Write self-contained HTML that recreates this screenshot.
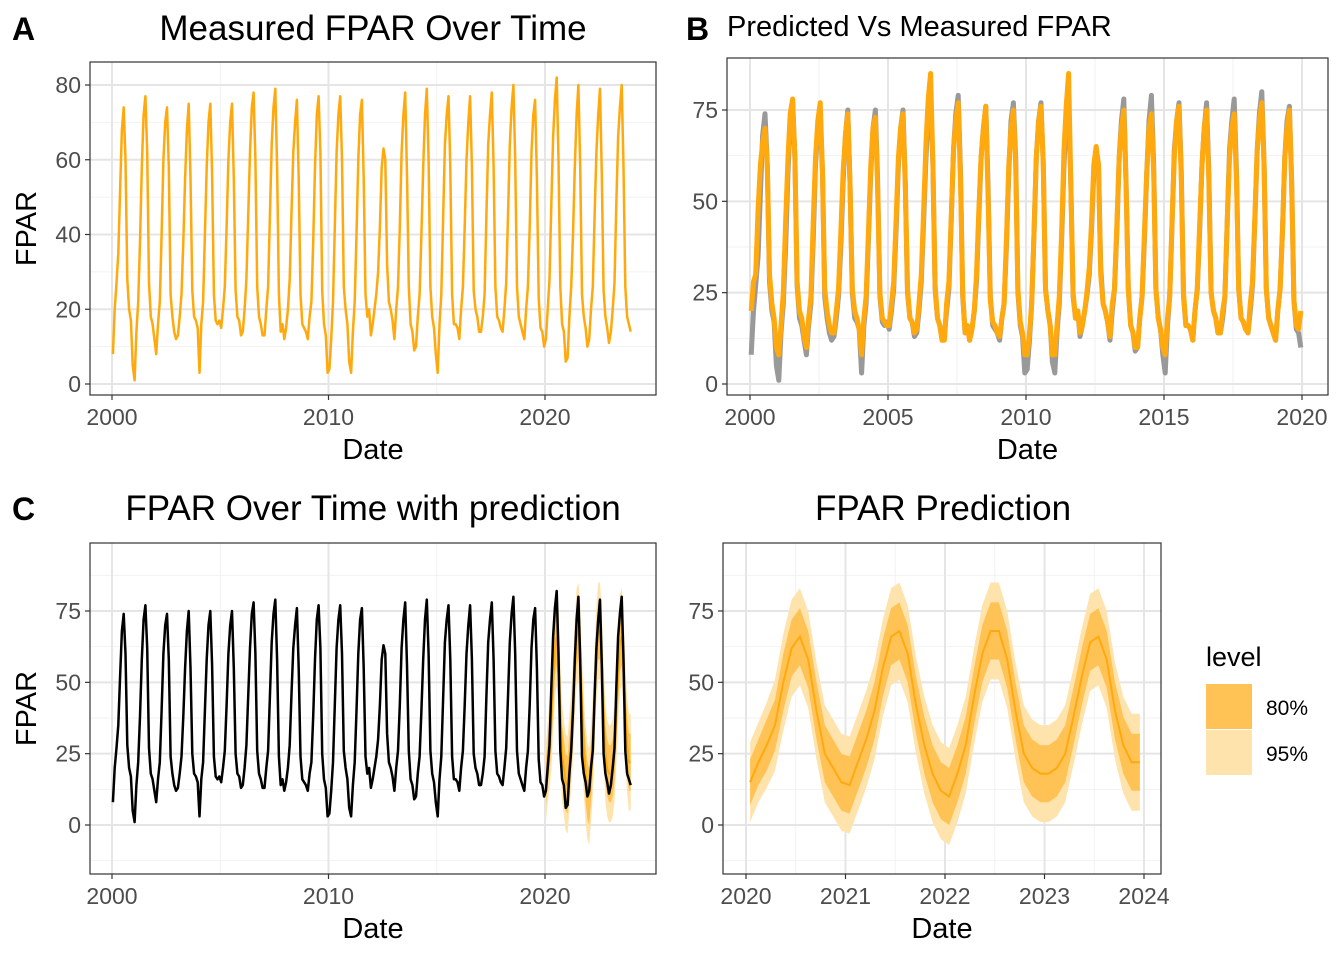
<!DOCTYPE html>
<html><head><meta charset="utf-8">
<style>
body{margin:0;background:#fff;}
svg text{font-family:"Liberation Sans",Arial,sans-serif;}
</style></head>
<body>
<svg id="fig" width="1344" height="960" xmlns="http://www.w3.org/2000/svg">
<rect width="1344" height="960" fill="#fff"/>
</svg>
<script>
// ---- data ----
const startYear = 2000;
const measured = [
[8,20,27,35,52,68,74,60,28,20,17,5],
[1,14,22,38,58,72,77,62,27,18,16,12],
[8,16,22,40,60,70,74,58,24,18,14,12],
[13,18,24,38,55,68,75,55,25,18,17,15],
[3,16,22,40,58,70,75,56,24,17,16,17],
[15,20,26,42,60,70,75,55,25,18,17,13],
[14,20,28,45,62,74,78,60,26,18,16,13],
[13,20,26,45,64,74,79,58,24,14,16,12],
[15,20,28,46,62,70,76,55,24,16,15,14],
[12,18,22,38,58,72,77,62,25,16,13,3],
[4,12,22,42,62,72,77,60,26,20,16,6],
[3,14,22,40,60,72,76,55,24,18,20,13],
[16,20,24,30,42,58,63,60,32,22,20,17],
[12,20,26,42,62,72,78,56,26,16,14,9],
[10,18,24,40,58,72,79,60,26,18,15,8],
[3,16,24,44,64,72,77,58,24,16,16,15],
[12,20,26,42,60,70,77,58,25,20,18,14],
[14,18,24,45,64,72,78,58,26,18,17,15],
[14,20,27,45,64,74,80,60,26,18,16,14],
[12,20,26,42,62,72,76,55,23,15,14,10],
[12,20,28,48,66,76,82,60,26,16,14,6],
[7,18,26,40,58,72,80,58,24,18,15,10],
[12,20,26,45,62,72,79,56,25,18,15,11],
[14,20,27,48,66,74,80,58,26,18,16,14]
];
const predicted = [
[20,28,30,48,60,66,70,60,30,22,18,10],
[8,16,25,45,62,74,78,62,28,20,18,13],
[10,18,24,45,62,72,77,58,26,20,16,14],
[14,20,26,42,58,68,74,55,26,20,18,15],
[8,18,24,42,60,70,73,54,25,18,17,16],
[16,22,28,45,62,70,74,54,26,18,17,14],
[15,22,30,48,66,78,85,60,27,18,16,12],
[12,22,28,46,64,72,77,56,25,14,16,12],
[15,20,30,48,62,70,76,52,23,17,16,14],
[13,18,22,40,60,70,75,60,26,17,14,8],
[8,14,22,42,62,72,76,60,26,20,16,8],
[8,16,24,42,64,76,85,55,25,18,20,14],
[16,20,25,32,44,60,65,60,30,22,20,17],
[13,22,26,44,62,70,75,55,26,16,14,10],
[10,18,24,42,58,70,74,58,26,18,15,10],
[8,18,24,45,62,72,76,56,25,16,16,15],
[12,20,26,44,60,70,75,56,25,20,18,14],
[14,20,24,45,62,70,74,56,26,18,17,15],
[14,22,28,46,64,72,77,60,26,18,16,14],
[12,20,26,42,62,70,75,55,23,16,15,20]
];
const fcMean = [
15,22,28,35,50,62,66,58,40,25,20,15,
14,22,30,40,55,66,68,60,42,28,18,12,
10,18,28,45,60,68,68,58,40,25,20,18,
18,20,25,38,52,64,66,58,40,28,22,22];
const fcHw80 = [8,8,9,9,10,10,10,10,10,10,10,10, 10,10,10,10,10,10,10,10,10,10,10,10, 10,10,10,10,10,10,10,10,10,10,10,10, 10,10,10,10,10,10,10,10,10,10,10,10];
const fcHw95 = [14,14,15,16,17,17,17,17,17,17,17,17, 17,17,17,17,17,17,17,17,17,17,17,17, 17,17,17,17,17,17,17,17,17,17,17,17, 17,17,17,17,17,17,17,17,17,17,17,17];
const ticksA_x=[2000,2010,2020], ticksA_y=[0,20,40,60,80];
const ticksB_x=[2000,2005,2010,2015,2020], ticksB_y=[0,25,50,75];
const ticksC_y=[0,25,50,75];
const ticksD_x=[2020,2021,2022,2023,2024];

// ---- helpers ----
const NS='http://www.w3.org/2000/svg';
const fig=document.getElementById('fig');
function el(tag,attrs,parent){const e=document.createElementNS(NS,tag);for(const k in attrs)e.setAttribute(k,attrs[k]);(parent||fig).appendChild(e);return e;}
function txt(s,attrs,parent){const e=el('text',attrs,parent);e.textContent=s;return e;}
function toPts(arr,y0){const p=[];arr.forEach((row,i)=>row.forEach((v,m)=>p.push([y0+i+(m+0.5)/12,v])));return p;}
const ORANGE='#FFA90F';

function panel(o){
  const g=el('g',{});
  
  
  const X=v=>o.x0+(v-o.xa)/(o.xb-o.xa)*(o.x1-o.x0);
  const Y=v=>o.y0-(v-o.ya)/(o.yb-o.ya)*(o.y0-o.y1);
  el('rect',{x:o.L,y:o.T,width:o.R-o.L,height:o.B-o.T,fill:'#fff'},g);
  o.minX.forEach(v=>el('line',{x1:X(v),x2:X(v),y1:o.T,y2:o.B,stroke:'#F2F2F2','stroke-width':1},g));
  o.minY.forEach(v=>el('line',{x1:o.L,x2:o.R,y1:Y(v),y2:Y(v),stroke:'#F2F2F2','stroke-width':1},g));
  o.tx.forEach(v=>el('line',{x1:X(v),x2:X(v),y1:o.T,y2:o.B,stroke:'#E5E5E5','stroke-width':2},g));
  o.ty.forEach(v=>el('line',{x1:o.L,x2:o.R,y1:Y(v),y2:Y(v),stroke:'#E5E5E5','stroke-width':2},g));
  o.draw(g,X,Y);
  el('rect',{x:o.L,y:o.T,width:o.R-o.L,height:o.B-o.T,fill:'none',stroke:'#333','stroke-width':1.2},g);
  o.tx.forEach(v=>{el('line',{x1:X(v),x2:X(v),y1:o.B,y2:o.B+5,stroke:'#333','stroke-width':1.2},g);
    const t=txt(String(v),{x:X(v),y:o.B+30,'font-size':23,fill:'#4D4D4D','text-anchor':'middle'},g);
    });
  o.ty.forEach(v=>{el('line',{x1:o.L-5,x2:o.L,y1:Y(v),y2:Y(v),stroke:'#333','stroke-width':1.2},g);
    const t=txt(String(v),{x:o.L-9,y:Y(v)+8,'font-size':23,fill:'#4D4D4D','text-anchor':'end'},g);
    });
  const xt=txt('Date',{x:(o.L+o.R)/2,y:o.B+64,'font-size':29,fill:'#000','text-anchor':'middle'},g);
  
  if(o.ytitle){const yt=txt('FPAR',{x:0,y:0,'font-size':29,fill:'#000','text-anchor':'middle',transform:`translate(36,${(o.T+o.B)/2}) rotate(-90)`},g);
    }
  const tt=txt(o.title,{x:o.titleX,y:o.titleY,'font-size':o.titleSize,fill:'#000','text-anchor':o.titleAnchor},g);
  
}
function path(pts,X,Y){return pts.map((p,i)=>(i?'L':'M')+X(p[0]).toFixed(1)+','+Y(p[1]).toFixed(1)).join('');}
function band(hw,X,Y){
  const up=[],lo=[];
  fcMean.forEach((v,i)=>{const x=2020+(i+0.5)/12;up.push([x,v+hw[i]]);lo.unshift([x,v-hw[i]]);});
  return path(up.concat(lo),X,Y)+'Z';
}
const mPts=toPts(measured,startYear), pPts=toPts(predicted,startYear);
const fPts=fcMean.map((v,i)=>[2020+(i+0.5)/12,v]);

// Panel A
panel({name:'panel-a',L:90,R:656,T:62,B:395,x0:112,x1:545,xa:2000,xb:2020,y0:384,y1:85,ya:0,yb:80,
  tx:ticksA_x,ty:ticksA_y,minX:[2005,2015],minY:[10,30,50,70],ytitle:true,
  title:'Measured FPAR Over Time',titleX:373,titleY:40,titleSize:35,titleAnchor:'middle',
  draw:(g,X,Y)=>{const p=el('path',{d:path(mPts,X,Y),fill:'none',stroke:ORANGE,'stroke-width':2.5,'stroke-linejoin':'round'},g);
    }});
// Panel B
panel({name:'panel-b',L:727,R:1328,T:58,B:395,x0:750,x1:1302,xa:2000,xb:2020,y0:384,y1:110,ya:0,yb:75,
  tx:ticksB_x,ty:ticksB_y,minX:[2002.5,2007.5,2012.5,2017.5],minY:[12.5,37.5,62.5],ytitle:false,
  title:'Predicted Vs Measured FPAR',titleX:727,titleY:36,titleSize:29,titleAnchor:'start',
  draw:(g,X,Y)=>{const a=el('path',{d:path(mPts.slice(0,240),X,Y),fill:'none',stroke:'#999','stroke-width':5,'stroke-linejoin':'round'},g);
    
    const b=el('path',{d:path(pPts,X,Y),fill:'none',stroke:ORANGE,'stroke-width':5,'stroke-linejoin':'round'},g);
    }});
// Panel C
panel({name:'panel-c',L:90,R:656,T:543,B:874,x0:112,x1:545,xa:2000,xb:2020,y0:825,y1:611,ya:0,yb:75,
  tx:ticksA_x,ty:ticksC_y,minX:[2005,2015],minY:[-12.5,12.5,37.5,62.5,87.5],ytitle:true,
  title:'FPAR Over Time with prediction',titleX:373,titleY:520,titleSize:35,titleAnchor:'middle',
  draw:(g,X,Y)=>{const b95=el('path',{d:band(fcHw95,X,Y),fill:'#FFE3AD'},g);
    
    const b80=el('path',{d:band(fcHw80,X,Y),fill:'#FFC355'},g);
    
    const f=el('path',{d:path(fPts,X,Y),fill:'none',stroke:ORANGE,'stroke-width':2},g);
    
    const p=el('path',{d:path(mPts,X,Y),fill:'none',stroke:'#000','stroke-width':2.5,'stroke-linejoin':'round'},g);
    }});
// Panel D
panel({name:'panel-d',L:723,R:1161,T:543,B:874,x0:746,x1:1144,xa:2020,xb:2024,y0:825,y1:611,ya:0,yb:75,
  tx:ticksD_x,ty:ticksC_y,minX:[2020.5,2021.5,2022.5,2023.5],minY:[-12.5,12.5,37.5,62.5,87.5],ytitle:false,
  title:'FPAR Prediction',titleX:943,titleY:520,titleSize:35,titleAnchor:'middle',
  draw:(g,X,Y)=>{const b95=el('path',{d:band(fcHw95,X,Y),fill:'#FFE3AD'},g);
    
    const b80=el('path',{d:band(fcHw80,X,Y),fill:'#FFC355'},g);
    
    const f=el('path',{d:path(fPts,X,Y),fill:'none',stroke:ORANGE,'stroke-width':2},g);
    }});

// panel letters
[['A',12,40],['B',686,40],['C',12,520]].forEach(([s,x,y])=>{const t=txt(s,{x:x,y:y,'font-size':32,'font-weight':'bold',fill:'#000'});
  });

// legend
const lg=el('g',{});


txt('level',{x:1206,y:666,'font-size':27,fill:'#000'},lg);
el('rect',{x:1206,y:684,width:46,height:45,fill:'#FFC355'},lg);
el('rect',{x:1206,y:730,width:46,height:45,fill:'#FFE3AD'},lg);
txt('80%',{x:1266,y:715,'font-size':21,fill:'#000'},lg);
txt('95%',{x:1266,y:761,'font-size':21,fill:'#000'},lg);
</script>
</body></html>
